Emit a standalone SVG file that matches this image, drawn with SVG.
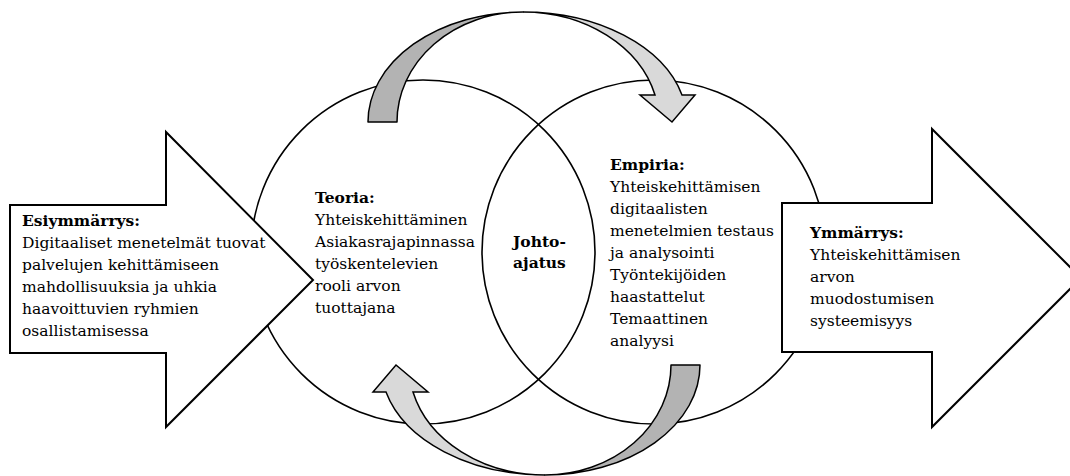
<svg xmlns="http://www.w3.org/2000/svg" width="1070" height="476" viewBox="0 0 1070 476">
<style>
.circ{fill:none;stroke:#000;stroke-width:1.6}
.big{fill:#fff;stroke:#000;stroke-width:2}
.dark{fill:#b3b3b3;stroke:#000;stroke-width:1.5;stroke-linejoin:round}
.light{fill:#d9d9d9;stroke:#000;stroke-width:1.5;stroke-linejoin:miter}
text{font-family:"DejaVu Serif","Liberation Serif",serif;font-size:15.5px;fill:#000}
.b{font-weight:bold}
</style>
<defs>
<g id="curved">
<path class="dark" d="M368,122 A155,110 0 0 1 523,12 A126,110 0 0 0 397,122 Z"/>
<path class="light" d="M523,12 A164,110 0 0 1 682,95 L695,95 L672,122 L640,95 L655,95 A136,110 0 0 0 523,12 Z"/>
</g>
</defs>
<g id="circle-teoria"><circle class="circ" cx="423" cy="252" r="172"/></g>
<g id="circle-empiria"><circle class="circ" cx="654" cy="252" r="172"/></g>
<g id="connectors">
<use href="#curved"/>
<use href="#curved" transform="rotate(180 534 243.5)"/>
</g>
<g id="esiymmarrys">
<path class="big" d="M10,205 L166,205 L166,132 L313,280 L166,427 L166,353 L10,353 Z"/>
<text x="22" y="226" class="b">Esiymmärrys:</text>
<text x="22" y="248">Digitaaliset menetelmät tuovat</text>
<text x="22" y="270">palvelujen kehittämiseen</text>
<text x="22" y="292">mahdollisuuksia ja uhkia</text>
<text x="22" y="314">haavoittuvien ryhmien</text>
<text x="22" y="336">osallistamisessa</text>
</g>
<g id="teoria">
<text x="315" y="203" class="b">Teoria:</text>
<text x="315" y="225">Yhteiskehittäminen</text>
<text x="315" y="247">Asiakasrajapinnassa</text>
<text x="315" y="269">työskentelevien</text>
<text x="315" y="291">rooli arvon</text>
<text x="315" y="313">tuottajana</text>
</g>
<g id="johtoajatus">
<text x="513" y="247" class="b">Johto-</text>
<text x="513" y="268" class="b">ajatus</text>
</g>
<g id="empiria">
<text x="610" y="170" class="b">Empiria:</text>
<text x="610" y="192">Yhteiskehittämisen</text>
<text x="610" y="214">digitaalisten</text>
<text x="610" y="236">menetelmien testaus</text>
<text x="610" y="258">ja analysointi</text>
<text x="610" y="280">Työntekijöiden</text>
<text x="610" y="302">haastattelut</text>
<text x="610" y="324">Temaattinen</text>
<text x="610" y="346">analyysi</text>
</g>
<g id="ymmarrys">
<path class="big" d="M782,203 L932,203 L932,129 L1081,278 L932,427 L932,352 L782,352 Z"/>
<text x="810" y="238" class="b">Ymmärrys:</text>
<text x="810" y="260">Yhteiskehittämisen</text>
<text x="810" y="282">arvon</text>
<text x="810" y="304">muodostumisen</text>
<text x="810" y="326">systeemisyys</text>
</g>
</svg>
